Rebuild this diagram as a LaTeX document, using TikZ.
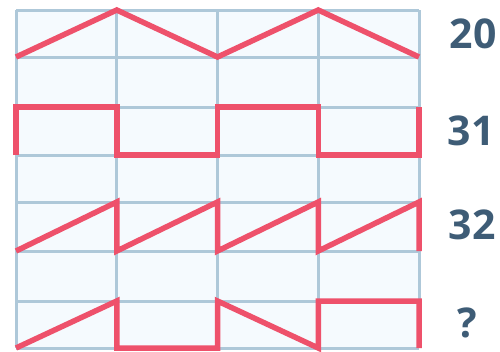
\documentclass[tikz,border=0pt]{standalone}
\usepackage{fontspec}
\setmainfont{Open Sans}
\definecolor{gridc}{HTML}{AEC8D9}
\definecolor{cellc}{HTML}{F5FAFE}
\definecolor{wave}{HTML}{EE516B}
\definecolor{txt}{HTML}{3E5C76}
\begin{document}
\begin{tikzpicture}[x=1pt,y=-1pt,
  gridline/.style={draw=gridc,line width=3pt},
  waveline/.style={draw=wave,line width=5.5pt,line join=miter},
  lbl/.style={text=txt,font=\fontsize{41}{43}\selectfont\bfseries,inner sep=0pt}]
\useasboundingbox (0,0) rectangle (500,351);
\fill[cellc] (16,10) rectangle (419,348);
% grid
\foreach \x in {16,116.75,217.5,318.25,419} \draw[gridline] (\x,10) -- (\x,348);
\foreach \y in {10,57,107,155,202,251,301,348} \draw[gridline] (16,\y) -- (419,\y);
% row 1: triangle wave
\draw[waveline] (16,57) -- (116.75,10) -- (217.5,57) -- (318.25,10) -- (419,57);
% row 3: square wave
\draw[waveline] (16,155) -- (16,107) -- (116.75,107) -- (116.75,155) -- (217.5,155) -- (217.5,107) -- (318.25,107) -- (318.25,155) -- (419,155) -- (419,107);
% row 5: sawtooth
\draw[waveline] (16,251) -- (116.75,202) -- (116.75,251) -- (217.5,202) -- (217.5,251) -- (318.25,202) -- (318.25,251) -- (419,202) -- (419,251);
% row 7: mixed
\draw[waveline] (16,348) -- (116.75,301) -- (116.75,348) -- (217.5,348) -- (217.5,301) -- (318.25,348) -- (318.25,301) -- (419,301) -- (419,348);
% labels
\node[lbl] (l1) at (473,34) {20};
\node[lbl] (l2) at (471,131) {31};
\node[lbl] (l3) at (472,225) {32};
\node[lbl] (l4) at (467,323) {?};
\end{tikzpicture}
\end{document}
